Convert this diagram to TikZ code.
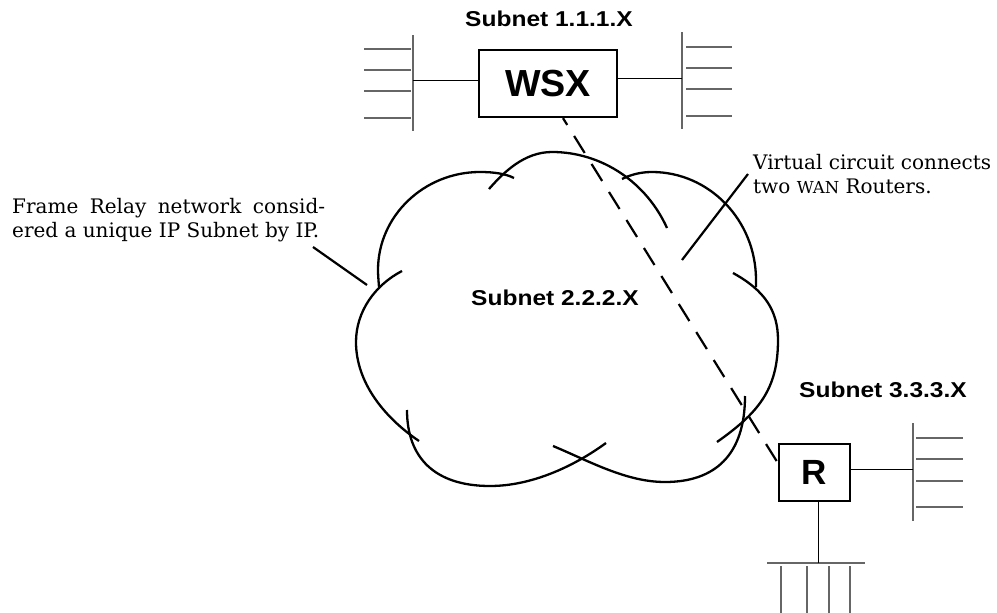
\documentclass[tikz,border=0pt]{standalone}
\usepackage{fontspec}
\usepackage{graphicx}
\setmainfont{DejaVu Serif}
\newfontfamily\sansb{Liberation Sans}
\newfontfamily\annfont{DejaVu Serif}
\begin{document}
\begin{tikzpicture}[x=1pt,y=-1pt,
  cloudline/.style={line width=2.3pt},
  boxnode/.style={draw, line width=2.3pt, inner sep=0pt},
  subnetlbl/.style={font=\sansb\bfseries\fontsize{21.5}{24}\selectfont, anchor=base, inner sep=0pt},
  annot/.style={font=\annfont\fontsize{20}{24}\selectfont, anchor=base west, inner sep=0pt},
  bus/.style={draw=black!60, line width=1.2pt},
  link/.style={draw=black, line width=1pt},
  leader/.style={draw=black, line width=2.2pt},
  vcircuit/.style={draw=black, line width=2.2pt, dash pattern=on 20pt off 13pt, dash phase=12pt}]
\useasboundingbox (0,0) rectangle (997,613);

% boxes
\node[boxnode, minimum width=138pt, minimum height=67pt,
      font=\sansb\bfseries\fontsize{37.7}{40}\selectfont] (wsx) at (548,83.5) {WSX};
\node[boxnode, minimum width=71pt, minimum height=57pt,
      font=\sansb\bfseries\fontsize{35}{38}\selectfont] (r) at (814.5,472.5) {R};

% labels
\node[subnetlbl] (s1) at (549,27) {\scalebox{1.14}[1]{Subnet 1.1.1.X}};
\node[subnetlbl] (s2) at (555,305) {\scalebox{1.14}[1]{Subnet 2.2.2.X}};
\node[subnetlbl] (s3) at (883,397) {\scalebox{1.14}[1]{Subnet 3.3.3.X}};

\node[annot] (frnote) at (12,213) {\parbox[t]{320pt}{\makebox[313pt][s]{Frame Relay network consid-}\\ered a unique IP Subnet by IP.}};
\node[annot] (vcnote) at (753,169) {\parbox[t]{250pt}{Virtual circuit connects\\two {\fontsize{16.5}{24}\selectfont WAN} Routers.}};

% cloud (seven overlapping arcs)
\draw[cloudline] (379,287) .. controls (378.5,280) and (378,275) .. (378,270)
  .. controls (378,216) and (424,172) .. (480,172)
  .. controls (495,172) and (506,174) .. (514,178);
\draw[cloudline] (489,189) .. controls (503.5,172.5) and (524,152) .. (552,152)
  .. controls (602,152) and (646.5,182.5) .. (667,228);
\draw[cloudline] (622,179) .. controls (630,175) and (640,172) .. (652,172)
  .. controls (709,172) and (756,220) .. (756,280) -- (756,287);
\draw[cloudline] (733,273) .. controls (764,290) and (778,310) .. (778,340)
  .. controls (778,390) and (758,413) .. (717,442);
\draw[cloudline] (745,396) .. controls (745,455) and (715,482) .. (665,482)
  .. controls (626,482) and (589,461) .. (553,446);
\draw[cloudline] (606,443) .. controls (573,467) and (531,486) .. (490,486)
  .. controls (435,486) and (407,458) .. (407,410);
\draw[cloudline] (419,441) .. controls (385,418) and (356,383) .. (356,342)
  .. controls (356,311.5) and (375,285) .. (402,271);

% leaders
\coordinate (frs) at (313,247);
\coordinate (frt) at (367,285);
\draw[leader] (frs) -- (frt);
\coordinate (vcs) at (748,174);
\coordinate (vct) at (682,260);
\draw[leader] (vcs) -- (vct);

% virtual circuit
\draw[vcircuit] ([xshift=15pt]wsx.south) -- ([yshift=9.5pt]r.west);

% WSX left bus
\draw[bus] (413,35) -- (413,131);
\foreach \yy in {49,70,91,118} \draw[bus] (364,\yy) -- (411,\yy);
\coordinate (wl) at (413,80);
\draw[link] (wl) -- (wl -| wsx.west);
% WSX right bus
\draw[bus] (682,32) -- (682,129);
\foreach \yy in {47,68,89,116} \draw[bus] (686,\yy) -- (732,\yy);
\coordinate (wr) at (682,78);
\draw[link] (wr) -- (wr -| wsx.east);
% R right bus
\draw[bus] (913,423) -- (913,521);
\foreach \yy in {438,459,481,507} \draw[bus] (916,\yy) -- (963,\yy);
\coordinate (rr) at (913,469);
\draw[link] (rr) -- (rr -| r.east);
% R bottom bus
\draw[bus] (767,563) -- (865,563);
\foreach \xx in {781,807,829,850} \draw[bus] (\xx,566) -- (\xx,613);
\coordinate (rb) at (818,563);
\draw[link] (rb) -- (rb |- r.south);
\end{tikzpicture}
\end{document}
